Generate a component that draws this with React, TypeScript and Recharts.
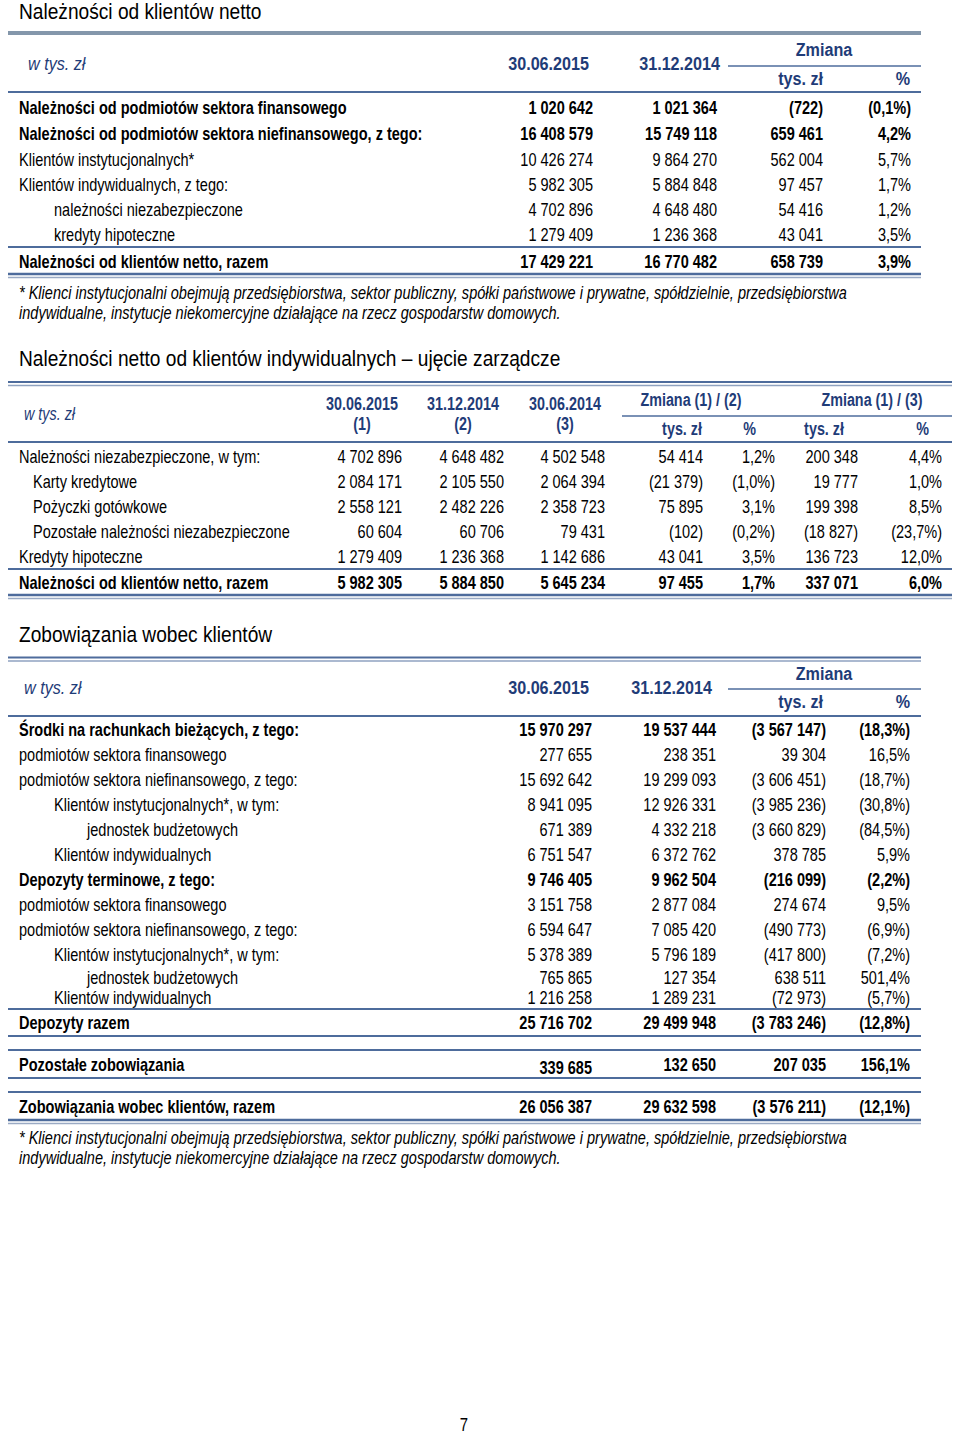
import React from 'react';
import { ComposedChart, Customized } from 'recharts';

// ---------- DATA ----------
const t1Title = 'Należności od klientów netto';
const t1Labels = [
  'Należności od podmiotów sektora finansowego',
  'Należności od podmiotów sektora niefinansowego, z tego:',
  'Klientów instytucjonalnych*',
  'Klientów indywidualnych, z tego:',
  'należności niezabezpieczone',
  'kredyty hipoteczne',
  'Należności od klientów netto, razem',
];
const t1Jun15 = ['1 020 642', '16 408 579', '10 426 274', '5 982 305', '4 702 896', '1 279 409', '17 429 221'];
const t1Dec14 = ['1 021 364', '15 749 118', '9 864 270', '5 884 848', '4 648 480', '1 236 368', '16 770 482'];
const t1ChgAmt = ['(722)', '659 461', '562 004', '97 457', '54 416', '43 041', '658 739'];
const t1ChgPct = ['(0,1%)', '4,2%', '5,7%', '1,7%', '1,2%', '3,5%', '3,9%'];

const t2Title = 'Należności netto od klientów indywidualnych – ujęcie zarządcze';
const t2Labels = [
  'Należności niezabezpieczone, w tym:',
  'Karty kredytowe',
  'Pożyczki gotówkowe',
  'Pozostałe należności niezabezpieczone',
  'Kredyty hipoteczne',
  'Należności od klientów netto, razem',
];
const t2Jun15 = ['4 702 896', '2 084 171', '2 558 121', '60 604', '1 279 409', '5 982 305'];
const t2Dec14 = ['4 648 482', '2 105 550', '2 482 226', '60 706', '1 236 368', '5 884 850'];
const t2Jun14 = ['4 502 548', '2 064 394', '2 358 723', '79 431', '1 142 686', '5 645 234'];
const t2Chg12Amt = ['54 414', '(21 379)', '75 895', '(102)', '43 041', '97 455'];
const t2Chg12Pct = ['1,2%', '(1,0%)', '3,1%', '(0,2%)', '3,5%', '1,7%'];
const t2Chg13Amt = ['200 348', '19 777', '199 398', '(18 827)', '136 723', '337 071'];
const t2Chg13Pct = ['4,4%', '1,0%', '8,5%', '(23,7%)', '12,0%', '6,0%'];

const t3Title = 'Zobowiązania wobec klientów';
const t3Labels = [
  'Środki na rachunkach bieżących, z tego:',
  'podmiotów sektora finansowego',
  'podmiotów sektora niefinansowego, z tego:',
  'Klientów instytucjonalnych*, w tym:',
  'jednostek budżetowych',
  'Klientów indywidualnych',
  'Depozyty terminowe, z tego:',
  'podmiotów sektora finansowego',
  'podmiotów sektora niefinansowego, z tego:',
  'Klientów instytucjonalnych*, w tym:',
  'jednostek budżetowych',
  'Klientów indywidualnych',
  'Depozyty razem',
  'Pozostałe zobowiązania',
  'Zobowiązania wobec klientów, razem',
];
const t3Jun15 = ['15 970 297', '277 655', '15 692 642', '8 941 095', '671 389', '6 751 547', '9 746 405', '3 151 758', '6 594 647', '5 378 389', '765 865', '1 216 258', '25 716 702', '339 685', '26 056 387'];
const t3Dec14 = ['19 537 444', '238 351', '19 299 093', '12 926 331', '4 332 218', '6 372 762', '9 962 504', '2 877 084', '7 085 420', '5 796 189', '127 354', '1 289 231', '29 499 948', '132 650', '29 632 598'];
const t3ChgAmt = ['(3 567 147)', '39 304', '(3 606 451)', '(3 985 236)', '(3 660 829)', '378 785', '(216 099)', '274 674', '(490 773)', '(417 800)', '638 511', '(72 973)', '(3 783 246)', '207 035', '(3 576 211)'];
const t3ChgPct = ['(18,3%)', '16,5%', '(18,7%)', '(30,8%)', '(84,5%)', '5,9%', '(2,2%)', '9,5%', '(6,9%)', '(7,2%)', '501,4%', '(5,7%)', '(12,8%)', '156,1%', '(12,1%)'];

const footnote1 = '* Klienci instytucjonalni obejmują przedsiębiorstwa, sektor publiczny, spółki państwowe i prywatne, spółdzielnie, przedsiębiorstwa';
const footnote2 = 'indywidualne, instytucje niekomercyjne działające na rzecz gospodarstw domowych.';
const pageNumber = '7';

// ---------- LAYOUT / STYLE ----------
const FONT = "'Liberation Sans', Arial, sans-serif";
const BLUE = '#1F3C78';
const LINE = '#4E6C9C';
const GREYLINE = '#8497AB';
const FS = 17.5;
const SX = 0.83;
const HS = 19;
const HSX = 0.85;
const H2S = 17.5;
const H2SX = 0.82;
const TS = 22;
const TSX = 0.87;

const t1RowY = [107, 133, 159, 184, 209, 234, 261];
const t1Bold = [true, true, false, false, false, false, true];
const t1Indent = [19, 19, 19, 19, 54, 54, 19];
const t1ColX = [593, 717, 823, 911];

const t2RowY = [456, 481, 506, 531, 556, 582];
const t2Bold = [false, false, false, false, false, true];
const t2Indent = [19, 33, 33, 33, 19, 19];
const t2ColX = [402, 504, 605, 703, 775, 858, 942];

const t3RowY = [729, 754, 779, 804, 829, 854, 879, 904, 929, 954, 977, 997, 1022, 1064, 1106];
const t3Bold = [true, false, false, false, false, false, true, false, false, false, false, false, true, true, true];
const t3Indent = [19, 19, 19, 54, 87, 54, 19, 19, 19, 54, 87, 54, 19, 19, 19];
const t3ColX = [592, 716, 826, 910];

type TProps = {
  x: number; y: number; children: React.ReactNode; anchor?: 'start' | 'middle' | 'end';
  bold?: boolean; italic?: boolean; color?: string; size?: number; sx?: number;
};
const T = ({ x, y, children, anchor = 'start', bold, italic, color = '#000', size = FS, sx = SX }: TProps) => (
  <g transform={`translate(${x},${y}) scale(${sx},1)`}>
    <text
      x={0}
      y={0}
      textAnchor={anchor}
      dominantBaseline="central"
      fontFamily={FONT}
      fontSize={size}
      fontWeight={bold ? 'bold' : 'normal'}
      fontStyle={italic ? 'italic' : 'normal'}
      fill={color}
    >
      {children}
    </text>
  </g>
);

const H = (p: TProps) => <T bold color={BLUE} size={HS} sx={HSX} {...p} />;
const H2 = (p: TProps) => <T bold color={BLUE} size={H2S} sx={H2SX} {...p} />;

const L = ({ x1, x2, y, w = 2, c = LINE }: { x1: number; x2: number; y: number; w?: number; c?: string }) => (
  <line x1={x1} x2={x2} y1={y} y2={y} stroke={c} strokeWidth={w} />
);

const Page = () => {
  return (
    <g>
      {/* ---------------- Table 1 ---------------- */}
      <T x={19} y={11} size={TS} sx={TSX}>{t1Title}</T>
      <L x1={8} x2={921} y={33} w={4} c={GREYLINE} />
      <H x={28} y={64} bold={false} italic>w tys. zł</H>
      <H x={589} y={64} anchor="end">30.06.2015</H>
      <H x={720} y={64} anchor="end">31.12.2014</H>
      <H x={824} y={50} anchor="middle">Zmiana</H>
      <L x1={728} x2={921} y={66} w={1.5} />
      <H x={823} y={79} anchor="end">tys. zł</H>
      <H x={910} y={79} anchor="end">%</H>
      <L x1={8} x2={921} y={92} w={2} />
      {t1Labels.map((lab, i) => (
        <g key={'t1' + i}>
          <T x={t1Indent[i]} y={t1RowY[i]} bold={t1Bold[i]}>{lab}</T>
          {[t1Jun15[i], t1Dec14[i], t1ChgAmt[i], t1ChgPct[i]].map((v, j) => (
            <T key={j} x={t1ColX[j]} y={t1RowY[i]} anchor="end" bold={t1Bold[i]}>{v}</T>
          ))}
        </g>
      ))}
      <L x1={8} x2={921} y={247} w={2} />
      <L x1={8} x2={921} y={274} w={2.5} />
      <L x1={8} x2={921} y={277.5} w={1.5} c="#9AAAC4" />
      <T x={19} y={292} italic>{footnote1}</T>
      <T x={19} y={312} italic>{footnote2}</T>

      {/* ---------------- Table 2 ---------------- */}
      <T x={19} y={358} size={TS} sx={TSX}>{t2Title}</T>
      <L x1={8} x2={952} y={382} w={2} />
      <L x1={8} x2={952} y={385.5} w={1.5} c="#8FA2C0" />
      <H2 x={24} y={414} bold={false} italic>w tys. zł</H2>
      <H2 x={362} y={404} anchor="middle">30.06.2015</H2>
      <H2 x={362} y={424} anchor="middle">(1)</H2>
      <H2 x={463} y={404} anchor="middle">31.12.2014</H2>
      <H2 x={463} y={424} anchor="middle">(2)</H2>
      <H2 x={565} y={404} anchor="middle">30.06.2014</H2>
      <H2 x={565} y={424} anchor="middle">(3)</H2>
      <H2 x={691} y={400} anchor="middle">Zmiana (1) / (2)</H2>
      <H2 x={872} y={400} anchor="middle">Zmiana (1) / (3)</H2>
      <L x1={622} x2={952} y={416} w={1.5} />
      <H2 x={702} y={429} anchor="end">tys. zł</H2>
      <H2 x={756} y={429} anchor="end">%</H2>
      <H2 x={844} y={429} anchor="end">tys. zł</H2>
      <H2 x={929} y={429} anchor="end">%</H2>
      <L x1={8} x2={952} y={442} w={2} />
      {t2Labels.map((lab, i) => (
        <g key={'t2' + i}>
          <T x={t2Indent[i]} y={t2RowY[i]} bold={t2Bold[i]}>{lab}</T>
          {[t2Jun15[i], t2Dec14[i], t2Jun14[i], t2Chg12Amt[i], t2Chg12Pct[i], t2Chg13Amt[i], t2Chg13Pct[i]].map((v, j) => (
            <T key={j} x={t2ColX[j]} y={t2RowY[i]} anchor="end" bold={t2Bold[i]}>{v}</T>
          ))}
        </g>
      ))}
      <L x1={8} x2={952} y={569} w={2} />
      <L x1={8} x2={952} y={595} w={2.5} />
      <L x1={8} x2={952} y={598.5} w={1.5} c="#9AAAC4" />

      {/* ---------------- Table 3 ---------------- */}
      <T x={19} y={634} size={TS} sx={TSX}>{t3Title}</T>
      <L x1={8} x2={921} y={657.5} w={2} />
      <L x1={8} x2={921} y={661} w={1.5} c="#8FA2C0" />
      <H x={24} y={688} bold={false} italic>w tys. zł</H>
      <H x={589} y={688} anchor="end">30.06.2015</H>
      <H x={712} y={688} anchor="end">31.12.2014</H>
      <H x={824} y={674} anchor="middle">Zmiana</H>
      <L x1={728} x2={921} y={689} w={1.5} />
      <H x={823} y={702} anchor="end">tys. zł</H>
      <H x={910} y={702} anchor="end">%</H>
      <L x1={8} x2={921} y={716} w={2} />
      {t3Labels.map((lab, i) => (
        <g key={'t3' + i}>
          <T x={t3Indent[i]} y={t3RowY[i]} bold={t3Bold[i]}>{lab}</T>
          {[t3Jun15[i], t3Dec14[i], t3ChgAmt[i], t3ChgPct[i]].map((v, j) => (
            <T key={j} x={t3ColX[j]} y={t3RowY[i] + (i === 13 && j === 0 ? 3 : 0)} anchor="end" bold={t3Bold[i]}>{v}</T>
          ))}
        </g>
      ))}
      <L x1={8} x2={921} y={1009} w={2} />
      <L x1={8} x2={921} y={1036} w={2} />
      <L x1={8} x2={921} y={1050} w={2} />
      <L x1={8} x2={921} y={1078} w={2} />
      <L x1={8} x2={921} y={1092} w={2} />
      <L x1={8} x2={921} y={1120} w={2.5} />
      <L x1={8} x2={921} y={1123.5} w={1.5} c="#9AAAC4" />
      <T x={19} y={1137} italic>{footnote1}</T>
      <T x={19} y={1157} italic>{footnote2}</T>

      <T x={464} y={1425} anchor="middle" size={18}>{pageNumber}</T>
    </g>
  );
};

export default function App() {
  return (
    <div style={{ position: 'absolute', left: 0, top: 0, width: 960, height: 1435, background: '#fff' }}>
      <ComposedChart width={960} height={1435} data={[]} margin={{ top: 0, right: 0, bottom: 0, left: 0 }}>
        <Customized component={<Page />} />
      </ComposedChart>
    </div>
  );
}
